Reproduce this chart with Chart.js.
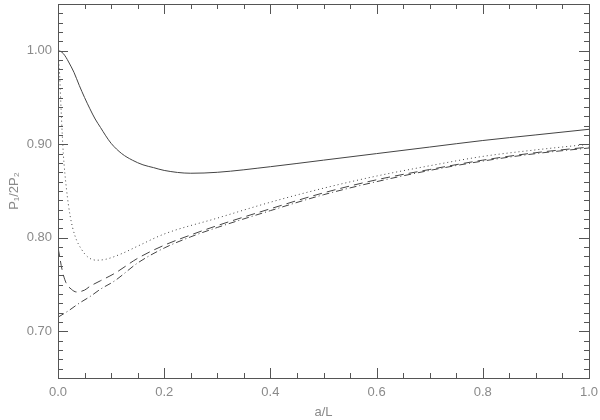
<!DOCTYPE html>
<html>
<head>
<meta charset="utf-8">
<script src="https://cdn.jsdelivr.net/npm/chart.js@4"></script>
<style>
  html, body { margin: 0; padding: 0; background: #fff; }
  #wrap { width: 600px; height: 420px; }
</style>
</head>
<body>
<div id="wrap"><canvas id="ratioChart" width="600" height="420"></canvas></div>
<script>
// --- data ---
const solidX = [0, 0.005, 0.01, 0.015, 0.02, 0.03, 0.04, 0.05, 0.06, 0.07, 0.08, 0.09, 0.10, 0.12, 0.14, 0.16, 0.18, 0.20, 0.25, 0.30, 0.40, 0.50, 0.60, 0.70, 0.80, 0.90, 1.00];
const solidY = [1.000, 0.9993, 0.997, 0.993, 0.988, 0.977, 0.963, 0.950, 0.938, 0.927, 0.918, 0.909, 0.901, 0.890, 0.883, 0.878, 0.875, 0.872, 0.869, 0.870, 0.876, 0.883, 0.890, 0.897, 0.904, 0.910, 0.916];

const dottedX = [0, 0.003, 0.006, 0.010, 0.016, 0.023, 0.032, 0.045, 0.057, 0.073, 0.09, 0.12, 0.15, 0.20, 0.30, 0.40, 0.50, 0.60, 0.70, 0.80, 0.90, 1.00];
const dottedY = [0.998, 0.975, 0.935, 0.890, 0.852, 0.823, 0.802, 0.787, 0.779, 0.776, 0.777, 0.783, 0.791, 0.804, 0.821, 0.838, 0.853, 0.866, 0.877, 0.887, 0.894, 0.900];

const dashedX = [0, 0.008, 0.015, 0.025, 0.035, 0.05, 0.06, 0.08, 0.107, 0.15, 0.20, 0.25, 0.30, 0.40, 0.50, 0.60, 0.70, 0.80, 0.90, 1.00];
const dashedY = [0.790, 0.765, 0.752, 0.745, 0.742, 0.744, 0.748, 0.754, 0.762, 0.778, 0.792, 0.803, 0.813, 0.831, 0.848, 0.862, 0.873, 0.883, 0.891, 0.897];

const dashDotX = [0, 0.02, 0.04, 0.06, 0.08, 0.107, 0.15, 0.20, 0.25, 0.30, 0.40, 0.50, 0.60, 0.70, 0.80, 0.90, 1.00];
const dashDotY = [0.715, 0.722, 0.730, 0.737, 0.745, 0.754, 0.773, 0.789, 0.801, 0.811, 0.829, 0.846, 0.860, 0.872, 0.882, 0.890, 0.896];

// tick values
const xMajor = [0, 0.2, 0.4, 0.6, 0.8, 1.0];
const xMinor = [0.05, 0.1, 0.15, 0.25, 0.3, 0.35, 0.45, 0.5, 0.55, 0.65, 0.7, 0.75, 0.85, 0.9, 0.95];
const yMajor = [0.70, 0.80, 0.90, 1.00];
const yMinor = [0.66, 0.67, 0.68, 0.69, 0.71, 0.72, 0.73, 0.74, 0.75, 0.76, 0.77, 0.78, 0.79,
                0.81, 0.82, 0.83, 0.84, 0.85, 0.86, 0.87, 0.88, 0.89,
                0.91, 0.92, 0.93, 0.94, 0.95, 0.96, 0.97, 0.98, 0.99, 1.01, 1.02, 1.03, 1.04];

const lineColor = "#444";
const textColor = "#8a8a8a";
const fontFamily = "'Liberation Sans', Arial, sans-serif";

function toPoints(xs, ys) {
  return xs.map((x, i) => ({ x: x, y: ys[i] }));
}

function makeSet(xs, ys, dash) {
  return {
    data: toPoints(xs, ys),
    borderColor: lineColor,
    borderWidth: 1,
    borderDash: dash,
    pointRadius: 0,
    fill: false,
    cubicInterpolationMode: "monotone",
  };
}

// --- frame with inward ticks on all sides (IDL style) ---
const frameTicks = {
  id: "frameTicks",
  afterDatasetsDraw(chart) {
    const ctx = chart.ctx;
    const area = chart.chartArea;
    const xs = chart.scales.x;
    const ys = chart.scales.y;
    ctx.save();
    ctx.strokeStyle = "#555";
    ctx.lineWidth = 1;
    ctx.strokeRect(Math.round(area.left) + 0.5, Math.round(area.top) + 0.5,
      Math.round(area.right - area.left), Math.round(area.bottom - area.top));
    ctx.beginPath();
    const tickX = (v, len) => {
      const px = Math.round(xs.getPixelForValue(v)) + 0.5;
      ctx.moveTo(px, area.bottom); ctx.lineTo(px, area.bottom - len);
      ctx.moveTo(px, area.top); ctx.lineTo(px, area.top + len);
    };
    const tickY = (v, len) => {
      const py = Math.round(ys.getPixelForValue(v)) + 0.5;
      ctx.moveTo(area.left, py); ctx.lineTo(area.left + len, py);
      ctx.moveTo(area.right, py); ctx.lineTo(area.right - len, py);
    };
    xMajor.forEach((v) => tickX(v, 10));
    xMinor.forEach((v) => tickX(v, 5));
    yMajor.forEach((v) => tickY(v, 10));
    yMinor.forEach((v) => tickY(v, 5));
    ctx.stroke();
    ctx.restore();
  },
};

new Chart(document.getElementById("ratioChart"), {
  type: "line",
  data: {
    datasets: [
      makeSet(solidX, solidY, []),
      makeSet(dottedX, dottedY, [1, 3]),
      makeSet(dashedX, dashedY, [9, 5]),
      makeSet(dashDotX, dashDotY, [7, 3, 1, 3]),
    ],
  },
  options: {
    responsive: false,
    animation: false,
    layout: { padding: { top: 4, right: 11, left: 0, bottom: 0 } },
    plugins: {
      legend: { display: false },
      tooltip: { enabled: false },
    },
    scales: {
      x: {
        type: "linear",
        min: 0,
        max: 1,
        afterBuildTicks: (scale) => { scale.ticks = xMajor.map((v) => ({ value: v })); },
        afterFit: (scale) => {
          scale.height = 42;
          scale.paddingLeft = 0;
          scale.paddingRight = 0;
        },
        grid: { display: false, drawTicks: false },
        border: { display: false },
        ticks: {
          color: textColor,
          font: { family: fontFamily, size: 13 },
          padding: 7,
          maxRotation: 0,
          callback: (v) => Number(v).toFixed(1),
        },
        title: {
          display: true,
          text: "a/L",
          color: textColor,
          font: { family: fontFamily, size: 13 },
          padding: { top: 0, bottom: 0 },
        },
      },
      y: {
        type: "linear",
        min: 0.65,
        max: 1.05,
        afterBuildTicks: (scale) => { scale.ticks = yMajor.map((v) => ({ value: v })); },
        afterFit: (scale) => {
          scale.width = 58;
          scale.paddingTop = 0;
          scale.paddingBottom = 0;
        },
        grid: { display: false, drawTicks: false },
        border: { display: false },
        ticks: {
          color: textColor,
          font: { family: fontFamily, size: 13 },
          padding: 6,
          callback: (v) => Number(v).toFixed(2),
        },
        title: {
          display: true,
          text: "P\u2081/2P\u2082",
          color: textColor,
          font: { family: fontFamily, size: 13 },
          padding: { top: 7, bottom: 0 },
        },
      },
    },
  },
  plugins: [frameTicks],
});
</script>
</body>
</html>
